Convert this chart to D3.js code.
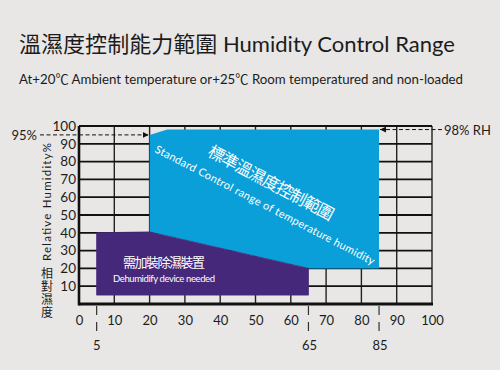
<!DOCTYPE html>
<html>
<head>
<meta charset="utf-8">
<script src="https://cdn.jsdelivr.net/npm/d3@7/dist/d3.min.js"></script>
<style>
  html, body { margin: 0; padding: 0; background: #e8e7e6; }
  svg { display: block; font-family: "Lato", "Noto Sans CJK TC", sans-serif; }
</style>
</head>
<body>
<svg id="chart" width="500" height="370"></svg>
<script>
// ---- data ----
const titleText = "溫濕度控制能力範圍 Humidity Control Range";
const subtitleText = "At+20℃ Ambient temperature or+25℃ Room temperatured and non-loaded";
const yLabelEn = "Relative Humidity%";
const yLabelZh = "相對濕度";
const xTicks = [0, 10, 20, 30, 40, 50, 60, 70, 80, 90, 100];
const yTicks = [10, 20, 30, 40, 50, 60, 70, 80, 90, 100];
const markerTemps = [5, 65, 85];
// standard control range (temperature °C, humidity %)
const stdTemps = [20, 20, 25, 85, 85, 65];
const stdHums  = [40.5, 95, 98, 98, 20, 20];
// dehumidify device needed
const dehTemps = [5, 5, 20, 65, 65];
const dehHums  = [5, 40, 40.5, 20, 5];
const stdLabelZh = "標準溫濕度控制範圍";
const stdLabelEn = "Standard Control range of temperature humidity";
const dehLabelZh = "需加裝除濕裝置";
const dehLabelEn = "Dehumidify device needed";
const annLeftValue = 95, annLeftText = "95%";
const annRightValue = 98, annRightText = "98% RH";

// ---- drawing ----
const svg = d3.select("#chart");
const x = d3.scaleLinear().domain([0, 100]).range([79, 432]);
const y = d3.scaleLinear().domain([0, 100]).range([304, 126]);
const BLUE = "#0a9fd8", PURPLE = "#46287a", INK = "#1c1c1c";
const LATIN = "Lato, 'Noto Sans', sans-serif";
const CJK = "'Noto Sans CJK TC', sans-serif";

svg.append("text").attr("x", 19).attr("y", 52)
  .attr("font-size", 22).attr("fill", INK)
  .attr("textLength", 436).attr("lengthAdjust", "spacingAndGlyphs")
  .text(titleText);
svg.append("text").attr("x", 19).attr("y", 84)
  .attr("font-size", 13.5).attr("fill", INK)
  .attr("textLength", 444).attr("lengthAdjust", "spacingAndGlyphs")
  .text(subtitleText);

// grid
const grid = svg.append("g");
grid.selectAll("line.v").data(xTicks.filter(d => d > 0)).join("line")
  .attr("x1", d => x(d)).attr("x2", d => x(d))
  .attr("y1", y(0)).attr("y2", y(100))
  .attr("stroke", "#222").attr("stroke-width", 1.4);
grid.selectAll("line.h").data(yTicks).join("line")
  .attr("x1", x(0)).attr("x2", x(100))
  .attr("y1", d => y(d)).attr("y2", d => y(d))
  .attr("stroke", "#111").attr("stroke-width", 1.8);

// regions
const line = d3.line().x(d => x(d[0])).y(d => y(d[1]));
svg.append("path")
  .attr("d", line(stdTemps.map((t, i) => [t, stdHums[i]])) + "Z")
  .attr("fill", BLUE);
svg.append("path")
  .attr("d", line(dehTemps.map((t, i) => [t, dehHums[i]])) + "Z")
  .attr("fill", PURPLE).attr("stroke", PURPLE).attr("stroke-width", 0.8)
  .attr("stroke-linejoin", "miter");

// frame
svg.append("line").attr("x1", x(0)).attr("x2", x(0)).attr("y1", y(100)).attr("y2", y(0) + 1.5)
  .attr("stroke", "#111").attr("stroke-width", 2.6);
svg.append("line").attr("x1", x(0)).attr("x2", x(100) + 1).attr("y1", y(0)).attr("y2", y(0))
  .attr("stroke", "#111").attr("stroke-width", 3);

// axes labels
const xAxis = svg.append("g").attr("transform", `translate(0,${y(0)})`)
  .call(d3.axisBottom(x).tickValues(xTicks).tickSize(0).tickPadding(12).tickFormat(d3.format("d")));
xAxis.select(".domain").remove();
xAxis.selectAll("text").attr("font-size", 13).attr("fill", INK).attr("font-family", LATIN);

const yAxis = svg.append("g").attr("transform", `translate(${x(0) - 1},0)`)
  .call(d3.axisLeft(y).tickValues(yTicks).tickSize(0).tickPadding(2).tickFormat(d3.format("d")));
yAxis.select(".domain").remove();
yAxis.selectAll("text").attr("font-size", 13.5).attr("fill", INK).attr("font-family", LATIN);

// marker lines below axis
const mk = svg.append("g");
mk.selectAll("line").data(markerTemps).join("line")
  .attr("x1", d => x(d)).attr("x2", d => x(d))
  .attr("y1", y(0) + 2).attr("y2", y(0) + 30)
  .attr("stroke", "#333").attr("stroke-width", 1.2)
  .attr("stroke-dasharray", "9,7");
mk.selectAll("text").data(markerTemps).join("text")
  .attr("x", d => x(d) + (d === 5 ? 0 : 1)).attr("y", 350)
  .attr("text-anchor", "middle").attr("font-size", 13).attr("fill", INK)
  .attr("font-family", LATIN)
  .text(d => d);

// y label
svg.append("text")
  .attr("transform", "translate(51,202) rotate(-90)")
  .attr("text-anchor", "middle").attr("font-size", 11.5).attr("fill", INK)
  .attr("font-family", LATIN)
  .attr("textLength", 118)
  .text(yLabelEn);
svg.append("text")
  .attr("x", 47).attr("y", 267)
  .attr("writing-mode", "vertical-rl")
  .style("text-orientation", "upright")
  .attr("font-size", 12).attr("letter-spacing", 1).attr("fill", INK)
  .attr("font-family", CJK)
  .text(yLabelZh);

// annotations
svg.append("defs").html(`
  <marker id="arr" viewBox="0 0 6 6" refX="6" refY="3" markerWidth="6" markerHeight="6" orient="auto">
    <path d="M0,0 L6,3 L0,6 Z" fill="#111"/>
  </marker>`);
svg.append("line").attr("x1", 40).attr("x2", x(20) - 1)
  .attr("y1", y(annLeftValue)).attr("y2", y(annLeftValue))
  .attr("stroke", "#111").attr("stroke-width", 1).attr("stroke-dasharray", "4,2.5")
  .attr("marker-end", "url(#arr)");
svg.append("text").attr("x", 37).attr("y", y(annLeftValue) + 5)
  .attr("text-anchor", "end").attr("font-size", 13).attr("fill", INK)
  .attr("font-family", LATIN).text(annLeftText);
svg.append("line").attr("x1", 442).attr("x2", x(85) + 1)
  .attr("y1", y(annRightValue)).attr("y2", y(annRightValue))
  .attr("stroke", "#111").attr("stroke-width", 1).attr("stroke-dasharray", "4,2.5")
  .attr("marker-end", "url(#arr)");
svg.append("text").attr("x", 444).attr("y", y(annRightValue) + 5)
  .attr("font-size", 13).attr("fill", INK)
  .attr("font-family", LATIN).text(annRightText);

// region labels
svg.append("text").attr("transform", "translate(271,183) rotate(28)")
  .attr("text-anchor", "middle").attr("dy", "0.35em")
  .attr("font-size", 16.5).attr("fill", "#fff").attr("textLength", 140)
  .attr("font-family", CJK)
  .text(stdLabelZh);
svg.append("text").attr("transform", "translate(265,205) rotate(27.5)")
  .attr("text-anchor", "middle").attr("dy", "0.35em")
  .attr("font-size", 11).attr("fill", "#fff").attr("textLength", 246)
  .attr("font-family", LATIN)
  .text(stdLabelEn);
svg.append("text").attr("x", 164).attr("y", 267)
  .attr("text-anchor", "middle").attr("font-size", 13).attr("fill", "#fff")
  .attr("textLength", 82).attr("font-family", CJK)
  .text(dehLabelZh);
svg.append("text").attr("x", 164).attr("y", 281.5)
  .attr("text-anchor", "middle").attr("font-size", 9.5).attr("fill", "#fff")
  .attr("textLength", 102).attr("font-family", LATIN)
  .text(dehLabelEn);
</script>
</body>
</html>
